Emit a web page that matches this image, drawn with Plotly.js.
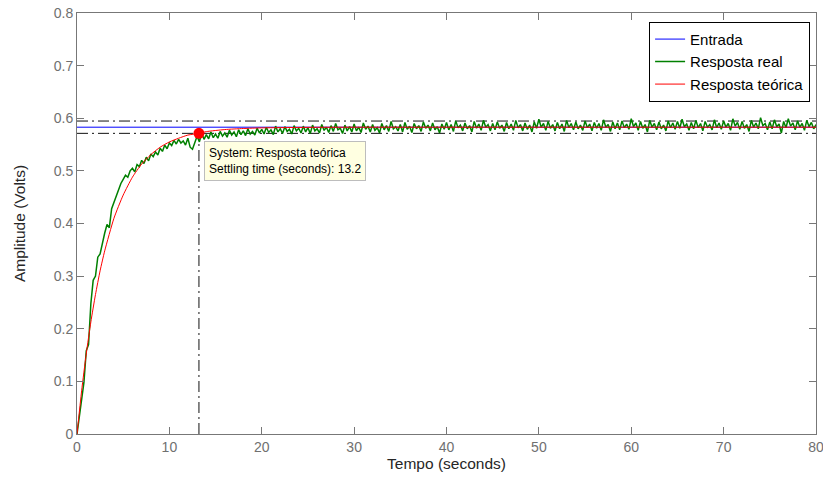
<!DOCTYPE html>
<html>
<head>
<meta charset="utf-8">
<script src="https://cdn.plot.ly/plotly-3.0.1.min.js"></script>
<style>html,body{margin:0;padding:0;background:#fff;}#chart{width:823px;height:480px;}</style>
</head>
<body>
<div id="chart"></div>
<script>
// ---- data ----
var inputLevel = 0.583;           // Entrada (step amplitude)
var settleUpper = 0.5947;         // +2% band
var settleLower = 0.5713;         // -2% band
var settleTime = 13.2;            // seconds
var xRange = [0, 80];
var xTicks = [0, 10, 20, 30, 40, 50, 60, 70, 80];
var yTicks = [0, 0.1, 0.2, 0.3, 0.4, 0.5, 0.6, 0.7, 0.8];

var theoT = [0, 0.5, 1, 1.5, 2, 2.5, 3, 4, 5, 6, 7, 8, 9, 10, 11, 12, 13.2, 14, 16, 18, 20, 25, 30, 40, 50, 60, 70, 80];
var theoV = [0, 0.082, 0.152, 0.213, 0.265, 0.310, 0.348, 0.410, 0.454, 0.488, 0.513, 0.531, 0.545, 0.555, 0.562, 0.568, 0.5713, 0.5746, 0.5785, 0.5805, 0.5817, 0.5827, 0.583, 0.583, 0.583, 0.583, 0.583, 0.583];

var realStep = 0.25; // sampling period of measured response (s)
var realV = [
0.000, 0.035, 0.062, 0.098, 0.158, 0.170, 0.248, 0.292, 0.300, 0.336, 0.342, 0.365, 0.382, 0.398, 0.392, 0.428, 0.440, 0.452, 0.468, 0.476,
0.484, 0.492, 0.488, 0.500, 0.505, 0.498, 0.512, 0.508, 0.520, 0.514, 0.526, 0.519, 0.532, 0.527, 0.536, 0.530, 0.543, 0.537, 0.549, 0.542,
0.553, 0.548, 0.558, 0.551, 0.560, 0.553, 0.557, 0.549, 0.562, 0.545, 0.541, 0.552, 0.566, 0.555, 0.572, 0.560, 0.569, 0.561, 0.574, 0.563,
0.570, 0.562, 0.575, 0.566, 0.572, 0.564, 0.577, 0.568, 0.574, 0.565, 0.578, 0.569, 0.576, 0.567, 0.580, 0.570, 0.575, 0.568, 0.581, 0.572,
0.579, 0.570, 0.583, 0.573, 0.578, 0.569, 0.585, 0.574, 0.580, 0.571, 0.584, 0.575, 0.579, 0.570, 0.586, 0.576, 0.581, 0.572, 0.585, 0.574,
0.582, 0.571, 0.587, 0.576, 0.580, 0.572, 0.588, 0.577, 0.583, 0.573, 0.586, 0.575, 0.590, 0.578, 0.581, 0.571, 0.587, 0.576, 0.584, 0.574,
0.589, 0.576, 0.583, 0.573, 0.591, 0.579, 0.585, 0.574, 0.588, 0.577, 0.582, 0.572, 0.590, 0.578, 0.586, 0.575, 0.594, 0.580, 0.584, 0.576,
0.588, 0.574, 0.592, 0.579, 0.585, 0.573, 0.590, 0.580, 0.586, 0.575, 0.593, 0.581, 0.587, 0.576, 0.591, 0.578, 0.584, 0.572, 0.589, 0.579,
0.592, 0.578, 0.588, 0.575, 0.595, 0.582, 0.587, 0.576, 0.591, 0.580, 0.586, 0.574, 0.594, 0.581, 0.589, 0.577, 0.596, 0.583, 0.588, 0.576,
0.590, 0.578, 0.593, 0.581, 0.587, 0.575, 0.592, 0.580, 0.589, 0.577, 0.596, 0.582, 0.588, 0.576, 0.591, 0.579, 0.587, 0.574, 0.593, 0.581,
0.598, 0.583, 0.590, 0.577, 0.594, 0.581, 0.588, 0.576, 0.592, 0.580, 0.589, 0.575, 0.596, 0.582, 0.590, 0.578, 0.593, 0.580, 0.587, 0.577,
0.595, 0.582, 0.589, 0.576, 0.592, 0.581, 0.590, 0.577, 0.597, 0.583, 0.588, 0.575, 0.593, 0.580, 0.591, 0.578, 0.595, 0.582, 0.589, 0.579,
0.599, 0.584, 0.591, 0.577, 0.594, 0.581, 0.588, 0.574, 0.596, 0.583, 0.590, 0.578, 0.593, 0.580, 0.587, 0.576, 0.595, 0.582, 0.591, 0.579,
0.594, 0.581, 0.598, 0.584, 0.589, 0.577, 0.592, 0.580, 0.596, 0.582, 0.590, 0.576, 0.594, 0.583, 0.588, 0.578, 0.597, 0.582, 0.591, 0.579,
0.595, 0.583, 0.590, 0.577, 0.599, 0.585, 0.592, 0.579, 0.594, 0.581, 0.588, 0.575, 0.596, 0.583, 0.591, 0.580, 0.601, 0.586, 0.590, 0.578,
0.593, 0.580, 0.597, 0.584, 0.589, 0.572, 0.594, 0.582, 0.599, 0.585, 0.591, 0.578, 0.595, 0.583, 0.590, 0.577, 0.596, 0.584, 0.592, 0.580,
0.588
];
var realT = realV.map(function(_, i){ return i * realStep; });

var names = ['Entrada', 'Resposta real', 'Resposta teórica'];
var tipText = 'System: Resposta teórica<br>Settling time (seconds): ' + settleTime;

// ---- traces ----
var dashStyle = '11px,4px,2px,4px';
var refLine = {color: '#111', width: 1, dash: dashStyle};
var traces = [
  {x: xRange, y: [settleUpper, settleUpper], mode: 'lines', showlegend: false, hoverinfo: 'skip', line: refLine},
  {x: xRange, y: [settleLower, settleLower], mode: 'lines', showlegend: false, hoverinfo: 'skip', line: refLine},
  {x: [settleTime, settleTime], y: [0, settleLower], mode: 'lines', showlegend: false, hoverinfo: 'skip', line: refLine},
  {x: xRange, y: [inputLevel, inputLevel], mode: 'lines', name: names[0],
   line: {color: '#0000ff', width: 1}},
  {x: realT, y: realV, mode: 'lines', name: names[1],
   line: {color: '#008000', width: 1.5}},
  {x: theoT, y: theoV, mode: 'lines', name: names[2],
   line: {color: '#ff0000', width: 1, shape: 'spline', smoothing: 0.6}},
  {x: [settleTime], y: [settleLower], mode: 'markers', showlegend: false, hoverinfo: 'skip',
   marker: {color: '#ff0000', size: 11}}
];

var fam = 'Liberation Sans, Arial, Helvetica, sans-serif';
var tickFont = {family: fam, size: 14, color: '#707070'};
var titleFont = {family: fam, size: 15.5, color: '#262626'};

var layout = {
  width: 823, height: 480,
  margin: {l: 77, r: 7, t: 13, b: 46, pad: 0},
  paper_bgcolor: '#ffffff', plot_bgcolor: '#ffffff',
  font: {family: fam, size: 14, color: '#262626'},
  xaxis: {
    range: xRange, tickvals: xTicks, ticks: 'inside', ticklen: 7,
    tickcolor: '#777', showline: true, linecolor: '#777', linewidth: 1, mirror: 'ticks',
    showgrid: false, zeroline: false, tickfont: tickFont, ticklabeloverflow: 'allow',
    title: {text: 'Tempo (seconds)', font: titleFont, standoff: 2}
  },
  yaxis: {
    range: [0, 0.8], tickvals: yTicks, ticks: 'inside', ticklen: 7,
    tickcolor: '#777', showline: true, linecolor: '#777', linewidth: 1, mirror: 'ticks',
    showgrid: false, zeroline: false, tickfont: tickFont, ticklabeloverflow: 'allow',
    title: {text: 'Amplitude (Volts)', font: titleFont, standoff: 24}
  },
  legend: {
    x: 0.992, y: 0.979, xanchor: 'right', yanchor: 'top',
    bgcolor: '#ffffff', bordercolor: '#000000', borderwidth: 1,
    font: {family: fam, size: 15, color: '#000'},
    tracegroupgap: 0, itemwidth: 30
  },
  annotations: [{
    x: settleTime, y: settleLower, xref: 'x', yref: 'y',
    text: tipText, showarrow: false, align: 'left',
    xanchor: 'left', yanchor: 'top', xshift: 5, yshift: -8,
    bgcolor: '#ffffe1', bordercolor: '#bdbdbd', borderwidth: 1, borderpad: 4,
    font: {family: fam, size: 12, color: '#000'}
  }],
  showlegend: true
};

Plotly.newPlot('chart', traces, layout, {displayModeBar: false, staticPlot: true});
</script>
</body>
</html>
